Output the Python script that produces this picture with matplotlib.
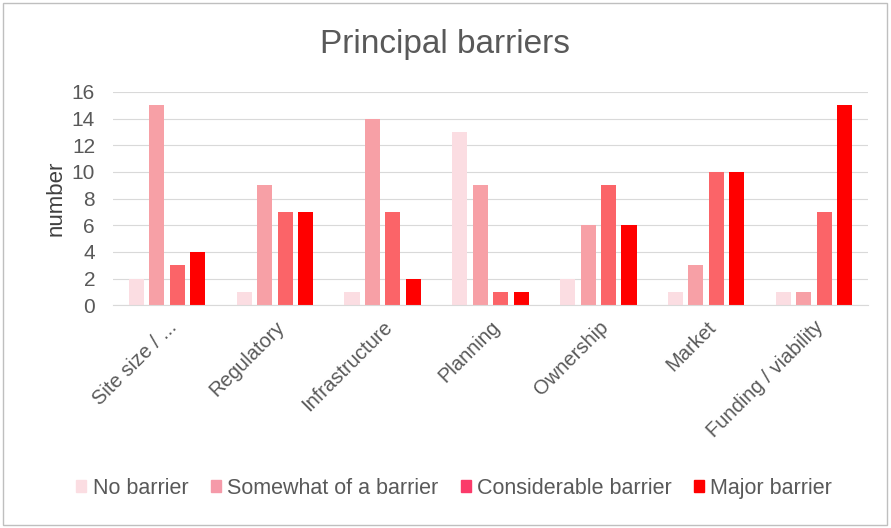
import numpy as np
import matplotlib.pyplot as plt

plt.rcParams['font.family'] = ['Liberation Sans', 'DejaVu Sans']

categories = ["Site size / ...", "Regulatory", "Infrastructure", "Planning",
              "Ownership", "Market", "Funding / viability"]
series = ["No barrier", "Somewhat of a barrier", "Considerable barrier", "Major barrier"]
values = [
    [2, 1, 1, 13, 2, 1, 1],
    [15, 9, 14, 9, 6, 3, 1],
    [3, 7, 7, 1, 9, 10, 7],
    [4, 7, 2, 1, 6, 10, 15],
]
colors = ["#fbdde2", "#f7a0a6", "#fb6468", "#ff0000"]
legend_colors = ["#fbdde2", "#f59aa9", "#fb3a6a", "#ff0000"]

fig = plt.figure(figsize=(8.91, 5.28), dpi=100)
ax = fig.add_axes([0.127, 0.422, 0.847, 0.404])

x = np.arange(len(categories))
width = 0.14
step = 0.19
for i, (name, vals) in enumerate(zip(series, values)):
    ax.bar(x + (i - 1.5) * step, vals, width, color=colors[i], zorder=2)

ax.set_xlim(-0.5, len(categories) - 0.5)
ax.set_ylim(0, 16)
ax.set_yticks(range(0, 17, 2))
ax.grid(axis='y', color='#d9d9d9', lw=0.8, zorder=0)
ax.set_xticks(x)
ax.set_xticklabels(categories, rotation=45, ha='right', rotation_mode='anchor',
                   fontsize=14.5, color='#595959')
ax.tick_params(axis='y', length=0, labelsize=15, labelcolor='#595959', pad=13)
ax.tick_params(axis='x', length=0, labelcolor='#595959', pad=9)
for s in ['top', 'right', 'left']:
    ax.spines[s].set_visible(False)
ax.spines['bottom'].set_color('#d9d9d9')
ax.set_ylabel("number", fontsize=16, color='#404040', labelpad=4)

fig.suptitle("Principal barriers", y=0.945, fontsize=24, color='#595959')

handles = [plt.Rectangle((0, 0), 1, 1, color=c) for c in legend_colors]
fig.legend(handles, series, loc='center', bbox_to_anchor=(0.51, 0.075), ncol=4,
           frameon=False, fontsize=15.5, handlelength=0.45, handleheight=0.45,
           handletextpad=0.3, columnspacing=1.05, labelcolor='#595959')

border = plt.Rectangle((0.003, 0.005), 0.993, 0.99, transform=fig.transFigure,
                       fill=False, edgecolor='#bfbfbf', lw=1)
fig.patches.append(border)

fig.savefig("out.png", dpi=100)
